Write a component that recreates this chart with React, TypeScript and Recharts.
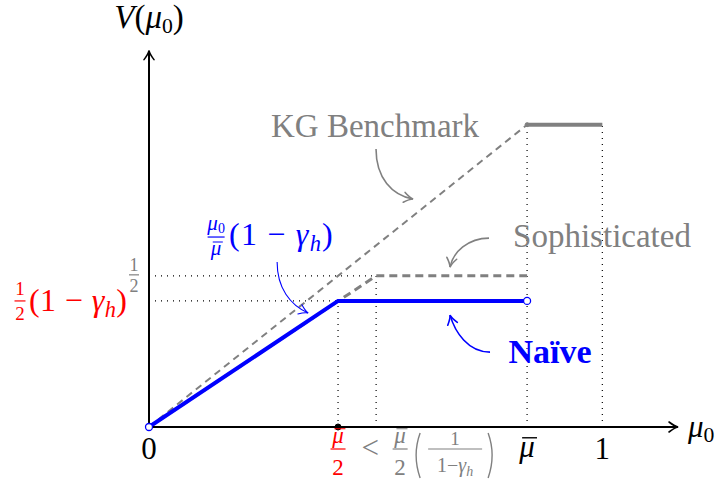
import React from 'react';
import { ComposedChart, Line, XAxis, YAxis, ReferenceLine, ReferenceDot } from 'recharts';

// thresholds on the prior axis
const muBar = 0.834;
const naiveKink = 0.417; // μ̄/2
const sophKink = 0.501; // μ̄/2 · 1/(1−γh)
const xTicks = [0, naiveKink, sophKink, muBar, 1];

// value levels
const naiveLevel = 0.417; // ½(1−γh)
const sophLevel = 0.5;
const vTicks = [naiveLevel, sophLevel];

// series
const benchmarkX = [0, 0.834];
const benchmarkV = [0, 1];
const fullInfoX = [0.834, 1];
const fullInfoV = [1, 1];
const naiveX = [0, 0.417, 0.834];
const naiveV = [0, 0.417, 0.417];
const sophX = [0, 0.501, 0.834];
const sophV = [0, 0.5, 0.5];

const toRows = (xs: number[], vs: number[]) => xs.map((x, i) => ({ x, v: vs[i] }));

const GRAY = '#808080';
const BLUE = '#0000ff';
const RED = '#ff0000';
const FONT = "'Liberation Serif', 'DejaVu Serif', serif";
const M = 31;
const ff = { fontFamily: FONT };

// small arrow tip pointing from (fx,fy) towards (tx,ty)
const tipPath = (tx: number, ty: number, fx: number, fy: number, len = 8, half = 4.5) => {
  const dx = tx - fx;
  const dy = ty - fy;
  const d = Math.hypot(dx, dy) || 1;
  const ux = dx / d;
  const uy = dy / d;
  const nx = -uy;
  const ny = ux;
  const bx = tx - ux * len;
  const by = ty - uy * len;
  const cx = tx - ux * len * 0.4;
  const cy = ty - uy * len * 0.4;
  return `M${bx + nx * half},${by + ny * half} Q${cx + nx * 0.8},${cy + ny * 0.8} ${tx},${ty} Q${cx - nx * 0.8},${cy - ny * 0.8} ${bx - nx * half},${by - ny * half}`;
};

const MuBar = ({ x, y, size, color }: { x: number; y: number; size: number; color: string }) => (
  <g>
    <text x={x} y={y} fontSize={size} fill={color} style={ff} fontStyle="italic" textAnchor="middle">
      μ
    </text>
    <line x1={x - size * 0.16} x2={x + size * 0.32} y1={y - size * 0.62} y2={y - size * 0.62} stroke={color} strokeWidth={Math.max(1, size * 0.045)} />
  </g>
);

const GammaTerm = ({ x, y, size, color, spacing = 1.2 }: { x: number; y: number; size: number; color: string; spacing?: number }) => (
  <text x={x} y={y} fontSize={size} fill={color} style={{ ...ff, letterSpacing: spacing }}>
    (1 − <tspan fontStyle="italic">γ</tspan>
    <tspan fontStyle="italic" fontSize={size * 0.7} dy={size * 0.18}>h</tspan>
    <tspan dy={-size * 0.18}>)</tspan>
  </text>
);

const FracBar = ({ cx, y, w, color }: { cx: number; y: number; w: number; color: string }) => (
  <line x1={cx - w / 2} x2={cx + w / 2} y1={y} y2={y} stroke={color} strokeWidth={1.2} />
);

const XTick = (props: any) => {
  const { x, y, payload } = props;
  const v = payload.value;
  if (v === 0 || v === 1) {
    return (
      <text x={x} y={y + 32} fontSize={M} style={ff} textAnchor="middle" fill="#000">
        {v}
      </text>
    );
  }
  if (v === muBar) return <MuBar x={x} y={y + 30} size={M} color="#000" />;
  if (v === naiveKink) {
    return (
      <g>
        <MuBar x={x} y={y + 16} size={23} color={RED} />
        <FracBar cx={x} y={y + 22} w={15} color={RED} />
        <text x={x} y={y + 48} fontSize={23} style={ff} textAnchor="middle" fill={RED}>2</text>
      </g>
    );
  }
  if (v === sophKink) {
    const fx = x + 79;
    return (
      <g fill={GRAY}>
        <text x={x - 6} y={y + 31} fontSize={M} style={ff} textAnchor="middle" fill={GRAY}>&lt;</text>
        <MuBar x={x + 24} y={y + 16} size={23} color={GRAY} />
        <FracBar cx={x + 24} y={y + 22} w={15} color={GRAY} />
        <text x={x + 24} y={y + 48} fontSize={23} style={ff} textAnchor="middle" fill={GRAY}>2</text>
        <path d={`M${x + 44},${y + 6} Q${x + 36},${y + 28} ${x + 44},${y + 51}`} fill="none" stroke={GRAY} strokeWidth={1.4} />
        <text x={fx} y={y + 18} fontSize={19} style={ff} textAnchor="middle" fill={GRAY}>1</text>
        <FracBar cx={fx} y={y + 22} w={54} color={GRAY} />
        <text x={fx} y={y + 45} fontSize={20} style={ff} textAnchor="middle" fill={GRAY}>
          1−<tspan fontStyle="italic">γ</tspan>
          <tspan fontStyle="italic" fontSize={14} dy={4}>h</tspan>
        </text>
        <path d={`M${x + 112},${y + 6} Q${x + 120},${y + 28} ${x + 112},${y + 51}`} fill="none" stroke={GRAY} strokeWidth={1.4} />
      </g>
    );
  }
  return null;
};

const YTick = (props: any) => {
  const { x, y, payload } = props;
  if (payload.value === sophLevel) {
    return (
      <g>
        <text x={x - 15} y={y - 5} fontSize={18} style={ff} textAnchor="middle" fill={GRAY}>1</text>
        <FracBar cx={x - 15} y={y - 1} w={10} color={GRAY} />
        <text x={x - 15} y={y + 16} fontSize={18} style={ff} textAnchor="middle" fill={GRAY}>2</text>
      </g>
    );
  }
  return (
    <g>
      <text x={x - 129} y={y - 6} fontSize={19} style={ff} textAnchor="middle" fill={RED}>1</text>
      <FracBar cx={x - 129} y={y} w={11} color={RED} />
      <text x={x - 129} y={y + 19} fontSize={19} style={ff} textAnchor="middle" fill={RED}>2</text>
      <GammaTerm x={x - 120} y={y + 10} size={32} color={RED} spacing={0.4} />
    </g>
  );
};

// axis line with an arrow tip and its label
const axisShape = (label: 'x' | 'y') => (props: any) => {
  const { x1, y1, x2, y2 } = props;
  return (
    <g>
      <line x1={x1} y1={y1} x2={x2} y2={y2} stroke="#000" strokeWidth={2} />
      <path d={tipPath(x2, y2, x1, y1, 9, 5)} fill="none" stroke="#000" strokeWidth={1.6} strokeLinecap="round" />
      {label === 'x' ? (
        <text x={x2 + 10} y={y2 + 10} fontSize={M} style={ff} fill="#000">
          <tspan fontStyle="italic">μ</tspan>
          <tspan fontSize={M * 0.7} dy={5}>0</tspan>
        </text>
      ) : (
        <text x={x2} y={y2 - 23} fontSize={M + 2} style={ff} fill="#000" textAnchor="middle">
          <tspan fontStyle="italic">V</tspan>(<tspan fontStyle="italic">μ</tspan>
          <tspan fontSize={M * 0.7} dy={5}>0</tspan>
          <tspan dy={-5}>)</tspan>
        </text>
      )}
    </g>
  );
};

type Curve = { start: [number, number]; c1: [number, number]; c2: [number, number] };

// curved pointer ending at the dot's position, offsets in px relative to the tip
const CurvedArrow = ({ cx, cy, curve, color, width }: { cx: number; cy: number; curve: Curve; color: string; width: number }) => {
  const [sx, sy] = curve.start;
  const [ax, ay] = curve.c1;
  const [bx, by] = curve.c2;
  return (
    <g>
      <path d={`M${cx + sx},${cy + sy} C${cx + ax},${cy + ay} ${cx + bx},${cy + by} ${cx},${cy}`} fill="none" stroke={color} strokeWidth={width} />
      <path d={tipPath(cx, cy, cx + bx, cy + by, 9, 5)} fill="none" stroke={color} strokeWidth={width} strokeLinecap="round" />
    </g>
  );
};

const kgNote = (p: any) => (
  <g>
    <CurvedArrow cx={p.cx} cy={p.cy} curve={{ start: [-37, -50], c1: [-37, -21], c2: [-21, -4] }} color={GRAY} width={1.6} />
    <text x={p.cx - 38} y={p.cy - 62} fontSize={M + 2} style={ff} fill={GRAY} textAnchor="middle">KG Benchmark</text>
  </g>
);

const sophNote = (p: any) => (
  <g>
    <CurvedArrow cx={p.cx} cy={p.cy} curve={{ start: [39, -29], c1: [18, -29], c2: [3, -15] }} color={GRAY} width={1.6} />
    <text x={p.cx + 152} y={p.cy - 20} fontSize={M + 2} style={ff} fill={GRAY} textAnchor="middle">Sophisticated</text>
  </g>
);

const naiveNote = (p: any) => (
  <g>
    <CurvedArrow cx={p.cx} cy={p.cy} curve={{ start: [40, 37], c1: [18, 37], c2: [5, 17] }} color={BLUE} width={1.6} />
    <text x={p.cx + 100} y={p.cy + 48} fontSize={M + 3} fontWeight="bold" style={ff} fill={BLUE} textAnchor="middle">Naïve</text>
  </g>
);

const slopeNote = (p: any) => {
  const fx = p.cx - 92;
  return (
    <g>
      <CurvedArrow cx={p.cx} cy={p.cy} curve={{ start: [-31, -51], c1: [-31, -25], c2: [-18, -8] }} color={BLUE} width={1.1} />
      <text x={fx} y={p.cy - 83} fontSize={21} style={ff} fill={BLUE} textAnchor="middle">
        <tspan fontStyle="italic">μ</tspan>
        <tspan fontSize={14} dy={3}>0</tspan>
      </text>
      <FracBar cx={fx} y={p.cy - 76} w={17} color={BLUE} />
      <MuBar x={fx} y={p.cy - 58} size={21} color={BLUE} />
      <GammaTerm x={p.cx - 79} y={p.cy - 68} size={32} color={BLUE} />
    </g>
  );
};

const App = () => (
  <div style={{ position: 'absolute', left: 0, top: 0, background: '#fff', fontFamily: FONT }}>
    <ComposedChart width={720} height={481} margin={{ top: 34, right: 27, bottom: 0, left: 0 }}>
      <XAxis
        type="number"
        dataKey="x"
        domain={[0, 1.2]}
        ticks={xTicks}
        interval={0}
        tick={XTick}
        axisLine={false}
        tickLine={false}
        tickSize={0}
        tickMargin={0}
        height={54}
        allowDataOverflow
      />
      <YAxis
        type="number"
        dataKey="v"
        domain={[0, 1.3]}
        ticks={vTicks}
        interval={0}
        tick={YTick}
        axisLine={false}
        tickLine={false}
        tickSize={0}
        tickMargin={0}
        width={149}
        allowDataOverflow
      />

      {/* guide lines */}
      <ReferenceLine segment={[{ x: 0, y: sophLevel }, { x: sophKink, y: sophLevel }]} stroke="#000" strokeDasharray="1 5" strokeWidth={1.2} />
      <ReferenceLine segment={[{ x: 0, y: naiveLevel }, { x: naiveKink, y: naiveLevel }]} stroke="#000" strokeDasharray="1 5" strokeWidth={1.2} />
      <ReferenceLine segment={[{ x: naiveKink, y: 0 }, { x: naiveKink, y: naiveLevel }]} stroke="#000" strokeDasharray="1 5" strokeWidth={1.2} />
      <ReferenceLine segment={[{ x: sophKink, y: 0 }, { x: sophKink, y: sophLevel }]} stroke="#000" strokeDasharray="1 5" strokeWidth={1.2} />
      <ReferenceLine segment={[{ x: muBar, y: 0 }, { x: muBar, y: 1 }]} stroke="#000" strokeDasharray="1 5" strokeWidth={1.2} />
      <ReferenceLine segment={[{ x: 1, y: 0 }, { x: 1, y: 1 }]} stroke="#000" strokeDasharray="1 5" strokeWidth={1.2} />

      <Line data={toRows(sophX, sophV)} dataKey="v" type="linear" stroke={GRAY} strokeWidth={3} strokeDasharray="8 5" dot={false} activeDot={false} isAnimationActive={false} />
      <Line data={toRows(benchmarkX, benchmarkV)} dataKey="v" type="linear" stroke={GRAY} strokeWidth={2} strokeDasharray="7 5" dot={false} activeDot={false} isAnimationActive={false} />
      <Line data={toRows(fullInfoX, fullInfoV)} dataKey="v" type="linear" stroke={GRAY} strokeWidth={4} dot={false} activeDot={false} isAnimationActive={false} />
      <Line data={toRows(naiveX, naiveV)} dataKey="v" type="linear" stroke={BLUE} strokeWidth={4} dot={false} activeDot={false} isAnimationActive={false} />

      {/* axes with arrow tips */}
      <ReferenceLine segment={[{ x: 0, y: 0 }, { x: 1.167, y: 0 }]} shape={axisShape('x')} />
      <ReferenceLine segment={[{ x: 0, y: 0 }, { x: 0, y: 1.245 }]} shape={axisShape('y')} />

      <ReferenceDot x={naiveKink} y={0} r={3} fill="#000" stroke="#000" />
      <ReferenceDot x={muBar} y={1} r={2} fill={GRAY} stroke={GRAY} />
      <ReferenceDot x={0} y={0} r={3.5} fill="#fff" stroke={BLUE} strokeWidth={1.3} />
      <ReferenceDot x={muBar} y={naiveLevel} r={3.5} fill="#fff" stroke={BLUE} strokeWidth={1.3} />

      {/* annotations, anchored at their arrow tips */}
      <ReferenceDot x={0.5824} y={0.754} r={1} shape={kgNote} />
      <ReferenceDot x={0.664} y={0.529} r={1} shape={sophNote} />
      <ReferenceDot x={0.664} y={0.37} r={1} shape={naiveNote} />
      <ReferenceDot x={0.351} y={0.377} r={1} shape={slopeNote} />
    </ComposedChart>
  </div>
);

export default App;
